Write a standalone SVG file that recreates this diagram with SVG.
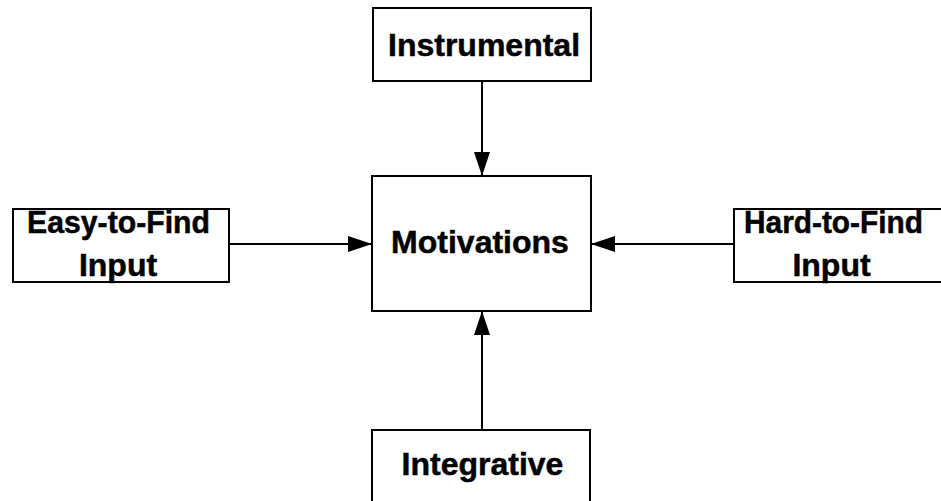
<svg xmlns="http://www.w3.org/2000/svg" width="941" height="501" viewBox="0 0 941 501">
  <style>
    .box { fill: #ffffff; stroke: #000000; stroke-width: 2; }
    .lbl { font-family: "Liberation Sans", Arial, sans-serif; font-weight: bold; font-size: 32px; fill: #000000; stroke: #000000; stroke-width: 0.5; text-anchor: middle; }
    .edge { stroke: #000000; stroke-width: 2; fill: none; marker-end: url(#arrow); }
  </style>
  <defs>
    <marker id="arrow" markerUnits="userSpaceOnUse" markerWidth="24" markerHeight="16" refX="24" refY="8" orient="auto">
      <path d="M0,0 L24,8 L0,16 Z" fill="#000000"/>
    </marker>
  </defs>
  <rect width="941" height="501" fill="#ffffff"/>

  <g id="connectors">
    <line class="edge" x1="482" y1="81" x2="482" y2="176"/>
    <line class="edge" x1="229" y1="244" x2="372" y2="244"/>
    <line class="edge" x1="734" y1="244" x2="591" y2="244"/>
    <line class="edge" x1="482" y1="430" x2="482" y2="311"/>
  </g>

  <g id="instrumental">
    <rect class="box" x="373" y="8" width="218" height="73"/>
    <text class="lbl" x="484" y="56">Instrumental</text>
  </g>

  <g id="motivations">
    <rect class="box" x="372" y="176" width="219" height="135"/>
    <text class="lbl" x="480" y="253">Motivations</text>
  </g>

  <g id="easy-input">
    <rect class="box" x="13" y="209" width="216" height="73"/>
    <text class="lbl" x="118.5" y="233" textLength="183" lengthAdjust="spacingAndGlyphs">Easy-to-Find</text>
    <text class="lbl" x="118" y="276">Input</text>
  </g>

  <g id="hard-input">
    <rect class="box" x="734" y="209" width="208" height="73"/>
    <text class="lbl" x="833.5" y="233" textLength="179" lengthAdjust="spacingAndGlyphs">Hard-to-Find</text>
    <text class="lbl" x="831.5" y="276">Input</text>
  </g>

  <g id="integrative">
    <rect class="box" x="372" y="430" width="218" height="80"/>
    <text class="lbl" x="482.5" y="475">Integrative</text>
  </g>
</svg>
